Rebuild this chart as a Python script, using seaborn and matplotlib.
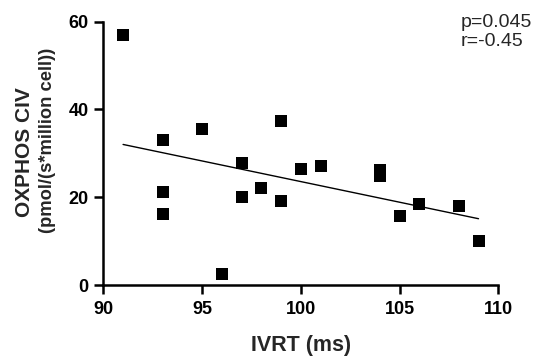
import matplotlib
matplotlib.use("Agg")
import matplotlib.pyplot as plt
import seaborn as sns
import pandas as pd

ivrt = [91, 93, 93, 93, 95, 96, 97, 97, 98, 99, 99, 100, 101, 104, 104, 105, 106, 108, 109]
civ = [57.0, 33.0, 21.3, 16.2, 35.5, 2.5, 27.7, 20.0, 22.2, 37.4, 19.1, 26.5, 27.1, 26.3, 24.9, 15.7, 18.5, 17.9, 10.1]
x_ticks = [90, 95, 100, 105, 110]
y_ticks = [0, 20, 40, 60]
y_title = "OXPHOS CIV"
y_unit = "(pmol/(s*million cell))"

sns.set_style("ticks")
plt.rcParams['font.family'] = ['Liberation Sans', 'DejaVu Sans']

df = pd.DataFrame({"IVRT": ivrt, "CIV": civ})

fig = plt.figure(figsize=(5.41, 3.59), dpi=100)
ax = fig.add_axes([0.191, 0.206, 0.730, 0.734])

sns.regplot(data=df, x="IVRT", y="CIV", ci=None, ax=ax, truncate=True,
            marker="s", color="black",
            scatter_kws={"s": 66, "linewidths": 0, "alpha": 1, "zorder": 3},
            line_kws={"linewidth": 1.0, "color": "black"})

ax.set_xlim(90, 110)
ax.set_ylim(0, 60)
ax.set_xticks(x_ticks)
ax.set_yticks(y_ticks)
for lab in ax.get_xticklabels() + ax.get_yticklabels():
    lab.set_fontweight("bold")
ax.tick_params(axis="both", direction="out", length=6.5, width=1.8, labelsize=13, colors="black")
ax.tick_params(axis="x", pad=5)
ax.tick_params(axis="y", pad=4)
for s in ["left", "bottom"]:
    ax.spines[s].set_linewidth(1.8)
    ax.spines[s].set_color("black")
sns.despine(ax=ax)

ax.set_xlabel("IVRT (ms)", fontsize=15.5, fontweight="bold", labelpad=12)
ax.set_ylabel("")
fig.text(0.0444, 0.577, y_title, rotation=90, ha="center", va="center",
         fontsize=15, fontweight="bold")
fig.text(0.0887, 0.610, y_unit, rotation=90, ha="center", va="center",
         fontsize=13.2, fontweight="bold")

fig.text(0.851, 0.962, "p=0.045\nr=-0.45", ha="left", va="top", fontsize=14, linespacing=1.2)

fig.savefig("out.png", dpi=100)
